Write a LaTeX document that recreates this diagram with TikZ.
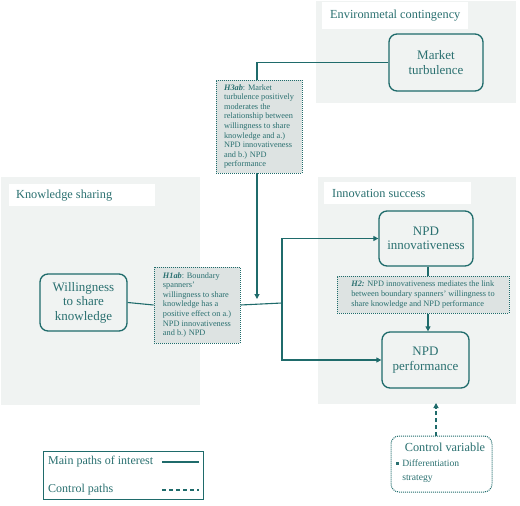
\documentclass[tikz,border=0pt]{standalone}
\usepackage{fontspec}
\setmainfont{Liberation Serif}
\usetikzlibrary{arrows.meta,calc}
\definecolor{teal1}{HTML}{1F6B6B}
\definecolor{tealtxt}{HTML}{2A7070}
\definecolor{panelgray}{HTML}{F0F3F2}
\definecolor{boxgray}{HTML}{DDE3E2}
\tikzset{
  panel/.style={fill=panelgray,draw=none,inner sep=0pt},
  paneltitle/.style={fill=white,draw=none,text=tealtxt,font=\fontsize{12.3}{14}\selectfont,inner sep=0pt,anchor=west},
  construct/.style={draw=teal1,line width=1.3pt,rounded corners=8pt,fill=panelgray,text=tealtxt,align=center,font=\fontsize{13}{14.5}\selectfont,inner sep=0pt},
  hypbox/.style={draw=teal1,densely dotted,line width=1pt,fill=boxgray,text=tealtxt,align=left,font=\fontsize{8.3}{9.6}\selectfont,inner sep=0pt},
  mainpath/.style={draw=teal1,line width=1.1pt},
  ctrlpath/.style={draw=teal1,line width=1.1pt,dash pattern=on 4pt off 3pt},
  tip/.style={-{Triangle[length=5pt,width=5pt]}},
  legtext/.style={text=tealtxt,font=\fontsize{12}{13}\selectfont,inner sep=0pt,anchor=west},
}
\begin{document}
\begin{tikzpicture}[x=1pt,y=-1pt]
\useasboundingbox (0,0) rectangle (520,506);
% panels
\node[panel,minimum width=200pt,minimum height=102pt] (envp) at (416,52) {};
\node[panel,minimum width=199pt,minimum height=228pt] (ksp) at (100.5,291) {};
\node[panel,minimum width=198pt,minimum height=227pt] (innp) at (417,290.5) {};
% panel titles
\fill[white] (322,2) rectangle (468,29);
\node[paneltitle] (envt) at (330,16) {Environmetal contingency};
\fill[white] (9,184) rectangle (155,206);
\node[paneltitle] (kst) at (16,195.5) {Knowledge sharing};
\fill[white] (324,182) rectangle (471,204);
\node[paneltitle] (innt) at (332,193.5) {Innovation success};
% constructs
\node[construct,minimum width=94pt,minimum height=57pt] (mt) at (436,62.5) {Market\\turbulence};
\node[construct,minimum width=87pt,minimum height=57pt] (ws) at (83.5,302.5) {Willingness\\to share\\knowledge};
\node[construct,minimum width=94pt,minimum height=55pt] (ni) at (426,238.5) {NPD\\innovativeness};
\node[construct,minimum width=87pt,minimum height=56pt] (np) at (425.5,360) {NPD\\performance};
% hypotheses
\node[hypbox,minimum width=86pt,minimum height=93pt] (h3) at (259,126.5)
 {\textbf{\textit{H3ab}}: Market\\turbulence positively\\moderates the\\relationship between\\willingness to share\\knowledge and a.)\\NPD innovativeness\\and b.) NPD\\performance};
\node[hypbox,minimum width=86pt,minimum height=76pt] (h1) at (197,305)
 {\textbf{\textit{H1ab}}: Boundary\\spanners'\\willingness to share\\knowledge has a\\positive effect on a.)\\NPD innovativeness\\and b.) NPD};
\node[hypbox,minimum width=172pt,minimum height=37pt] (h2) at (423,294.5)
 {\textbf{\textit{H2:}} NPD innovativeness mediates the link\\between boundary spanners' willingness to\\share knowledge and NPD performance};
% connectors
\coordinate (j) at (282,303);
\coordinate (h3top) at (257,80);
\coordinate (h3bot) at (257,173);
\coordinate (h3end) at (257,299);
\draw[mainpath] (mt.west) -| (h3top);
\draw[mainpath,tip] (h3bot) -- (h3end);
\draw[mainpath] (ws.east) -- (h1.west);
\draw[mainpath] (h1.east) -- (j);
\draw[mainpath,tip] (j) |- (ni.west);
\draw[mainpath,tip] (j) |- (np.west);
\draw[mainpath] ($(ni.south)+(2,0)$) -- ($(h2.north)+(5,0)$);
\draw[mainpath,tip] ($(h2.south)+(5,0)$) -- ($(np.north)+(2.5,0)$);
% control variable
\node[draw=teal1,densely dotted,line width=1pt,rounded corners=8pt,minimum width=101pt,minimum height=56pt,inner sep=0pt] (cv) at (441.5,464) {};
\node[text=tealtxt,font=\fontsize{12.3}{13}\selectfont,inner sep=0pt] (cvt) at (445,447) {Control variable};
\node[text=tealtxt,font=\fontsize{9.6}{14}\selectfont,inner sep=0pt,anchor=north west,align=left] (cvi) at (396,459.5) {\rule[0.35ex]{2.8pt}{2.8pt}\hspace{3.3pt}Differentiation\\\hspace{6.1pt}strategy};
\coordinate (cvtop) at (436,436);
\coordinate (cvend) at (436,403);
\draw[ctrlpath,tip] (cvtop) -- (cvend);
% legend
\node[draw=teal1,line width=1pt,minimum width=160pt,minimum height=48pt,inner sep=0pt] (leg) at (123,475) {};
\node[legtext] (l1) at (48,462) {Main paths of interest};
\node[legtext] (l2) at (48,490) {Control paths};
\coordinate (l1a) at (162,462); \coordinate (l1b) at (199,462);
\coordinate (l2a) at (162,490); \coordinate (l2b) at (199,490);
\draw[mainpath] (l1a) -- (l1b);
\draw[ctrlpath] (l2a) -- (l2b);
\end{tikzpicture}
\end{document}
